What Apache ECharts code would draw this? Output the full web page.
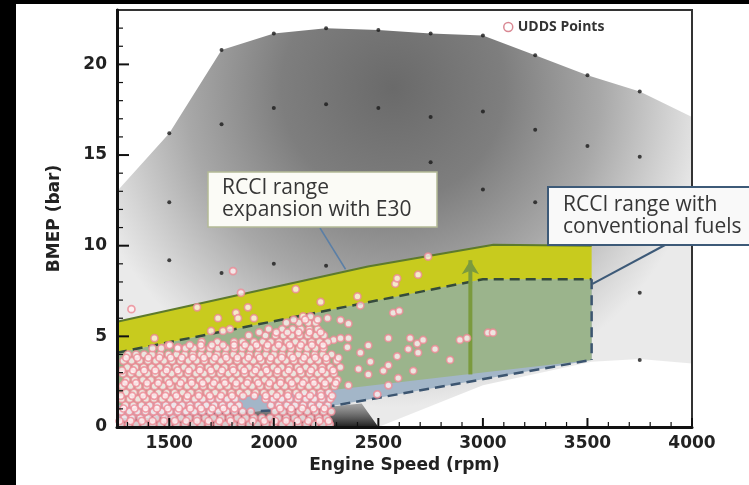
<!DOCTYPE html>
<html>
<head>
<meta charset="utf-8">
<script src="https://cdn.jsdelivr.net/npm/echarts@6/dist/echarts.min.js"></script>
<style>
	html, body { margin: 0; padding: 0; background: #fff; }
	#main { width: 749px; height: 485px; }
</style>
</head>
<body>
<div id="main"></div>
<script>
( function() {
	'use strict';

	// axis ticks
	var xMajorTicks = [ 1500, 2000, 2500, 3000, 3500, 4000 ];
	var xMinorTicks = [ 1300, 1400, 1600, 1700, 1800, 1900, 2100, 2200, 2300, 2400, 2600, 2700, 2800, 2900, 3100, 3200, 3300, 3400, 3600, 3700, 3800, 3900 ];
	var yMajorTicks = [ 0, 5, 10, 15, 20 ];
	var yMinorTicks = [ 1, 2, 3, 4, 6, 7, 8, 9, 11, 12, 13, 14, 16, 17, 18, 19, 21, 22 ];

	// engine map envelope (gray shaded)
	var envelope = [ [ 1250, 13.0 ], [ 1500, 16.2 ], [ 1750, 20.8 ], [ 2000, 21.7 ], [ 2250, 22.0 ], [ 2500, 21.9 ], [ 2750, 21.7 ], [ 3000, 21.6 ], [ 3250, 20.5 ], [ 3500, 19.4 ], [ 3750, 18.5 ], [ 4000, 17.1 ], [ 4000, 3.5 ], [ 3750, 3.75 ], [ 3520, 3.6 ], [ 3000, 2.3 ], [ 2500, 0 ], [ 1250, 0 ] ];
	var darkFloor = [ [ 1250, 0.4 ], [ 2250, 1.1 ], [ 2420, 1.3 ], [ 2500, 0 ], [ 1250, 0 ] ];

	// RCCI boundaries
	var e30Top = [ [ 1250, 5.8 ], [ 2450, 8.85 ], [ 3050, 10.05 ], [ 3520, 10.0 ] ];
	var convTop = [ [ 1250, 4.1 ], [ 3000, 8.15 ], [ 3520, 8.15 ] ];
	var e30Bottom = [ [ 1250, 1.2 ], [ 2250, 2.0 ], [ 3000, 3.0 ], [ 3520, 3.7 ] ];
	var convBottom = [ [ 1250, 0.4 ], [ 2250, 1.1 ], [ 3520, 3.7 ] ];
	var convRight = [ [ 3520, 8.15 ], [ 3520, 3.7 ] ];
	var arrowLine = [ [ 2940, 2.9 ], [ 2940, 9.2 ] ];

	// black test points
	var mapPoints = [
		[ 1500, 16.2 ], [ 1750, 20.8 ], [ 2000, 21.7 ], [ 2250, 22.0 ], [ 2500, 21.9 ], [ 2750, 21.7 ], [ 3000, 21.6 ], [ 3250, 20.5 ], [ 3500, 19.4 ], [ 3750, 18.5 ],
		[ 1500, 12.4 ], [ 1750, 16.7 ], [ 2000, 17.6 ], [ 2250, 17.8 ], [ 2500, 17.6 ], [ 2750, 17.1 ], [ 3000, 17.4 ], [ 3250, 16.4 ], [ 3500, 15.5 ], [ 3750, 14.9 ],
		[ 2750, 14.6 ], [ 3000, 13.1 ], [ 3250, 12.4 ],
		[ 1500, 9.2 ], [ 1750, 8.5 ], [ 2000, 9.0 ], [ 2250, 8.9 ],
		[ 3750, 7.4 ], [ 3750, 3.7 ]
	];

	// UDDS points, scattered ones
	var uddsSparse = [
		[ 1319, 6.5 ], [ 1429, 4.9 ], [ 1495, 4.5 ], [ 1543, 4.4 ], [ 1633, 6.6 ], [ 1700, 5.3 ], [ 1733, 6.0 ], [ 1757, 5.3 ], [ 1790, 5.4 ], [ 1805, 8.6 ],
		[ 1819, 6.3 ], [ 1829, 6.0 ], [ 1843, 7.4 ], [ 1876, 6.6 ], [ 1905, 6.0 ], [ 2105, 7.6 ], [ 2224, 6.9 ], [ 2257, 6.0 ], [ 2286, 4.8 ], [ 2319, 4.9 ],
		[ 2319, 5.9 ], [ 2352, 4.4 ], [ 2357, 5.7 ], [ 2357, 4.9 ], [ 2357, 2.3 ], [ 2400, 7.2 ], [ 2405, 3.2 ], [ 2414, 6.7 ], [ 2414, 4.1 ], [ 2452, 4.5 ],
		[ 2452, 2.9 ], [ 2462, 3.6 ], [ 2495, 1.8 ], [ 2524, 3.1 ], [ 2548, 4.9 ], [ 2548, 3.4 ], [ 2548, 2.3 ], [ 2571, 6.3 ], [ 2581, 7.9 ], [ 2590, 8.2 ],
		[ 2590, 3.9 ], [ 2595, 2.7 ], [ 2600, 6.4 ], [ 2643, 4.3 ], [ 2652, 4.9 ], [ 2667, 3.1 ], [ 2686, 4.6 ], [ 2690, 8.4 ], [ 2690, 4.1 ], [ 2714, 4.8 ],
		[ 2738, 9.4 ], [ 2771, 4.3 ], [ 2843, 3.7 ], [ 2890, 4.8 ], [ 2924, 4.9 ], [ 3024, 5.2 ], [ 3048, 5.2 ]
	];
	// UDDS points, dense cloud: bmep level -> rpm values
	var uddsRows = [
		[ 0.15, [ 1268, 1305, 1342, 1380, 1421, 1458, 1497, 1536, 1574, 1615, 1652, 1690, 1731, 1768, 1806, 1845, 1884, 1921, 1962, 2000, 2040, 2078, 2117, 2155, 2196, 2235, 2268 ] ],
		[ 0.5, [ 1285, 1322, 1361, 1400, 1438, 1478, 1517, 1556, 1594, 1633, 1672, 1711, 1750, 1788, 1826, 1866, 1905, 1943, 1982, 2021, 2060, 2099, 2137, 2176, 2215, 2252 ] ],
		[ 0.85, [ 1270, 1309, 1347, 1386, 1425, 1463, 1502, 1541, 1580, 1619, 1657, 1696, 1735, 1774, 1812, 1851, 1890, 2005, 2044, 2083, 2122, 2160, 2199, 2238, 2275 ] ],
		[ 1.2, [ 1290, 1328, 1367, 1406, 1444, 1483, 1522, 1561, 1599, 1638, 1677, 1716, 1754, 1793, 1832, 1986, 2024, 2063, 2102, 2141, 2180, 2219, 2258 ] ],
		[ 1.55, [ 1272, 1311, 1350, 1389, 1427, 1466, 1505, 1544, 1583, 1622, 1660, 1699, 1738, 1777, 1815, 1960, 1998, 2037, 2076, 2115, 2154, 2193, 2231, 2270 ] ],
		[ 1.9, [ 1293, 1331, 1370, 1409, 1448, 1487, 1525, 1564, 1603, 1642, 1681, 1719, 1758, 1797, 1836, 1875, 1913, 1952, 1991, 2030, 2069, 2107, 2146, 2185, 2224, 2263 ] ],
		[ 2.25, [ 1275, 1314, 1353, 1392, 1430, 1469, 1508, 1547, 1586, 1625, 1663, 1702, 1741, 1780, 1819, 1857, 1896, 1935, 1974, 2013, 2052, 2090, 2129, 2168, 2207, 2246, 2290 ] ],
		[ 2.6, [ 1296, 1335, 1374, 1412, 1451, 1490, 1529, 1568, 1606, 1645, 1684, 1723, 1762, 1800, 1839, 1878, 1917, 1956, 1994, 2033, 2072, 2111, 2150, 2188, 2227, 2266, 2305 ] ],
		[ 2.95, [ 1278, 1317, 1356, 1395, 1434, 1472, 1511, 1550, 1589, 1628, 1666, 1705, 1744, 1783, 1822, 1861, 1899, 1938, 1977, 2016, 2055, 2093, 2132, 2171, 2210, 2249, 2288 ] ],
		[ 3.3, [ 1299, 1338, 1377, 1416, 1454, 1493, 1532, 1571, 1610, 1648, 1687, 1726, 1765, 1804, 1843, 1881, 1920, 1959, 1998, 2037, 2075, 2114, 2153, 2192, 2231, 2270, 2318 ] ],
		[ 3.65, [ 1281, 1320, 1359, 1398, 1436, 1475, 1514, 1553, 1592, 1631, 1669, 1708, 1747, 1786, 1825, 1864, 1902, 1941, 1980, 2019, 2058, 2097, 2135, 2174, 2213, 2252, 2300 ] ],
		[ 4.0, [ 1302, 1341, 1380, 1418, 1457, 1496, 1535, 1574, 1613, 1651, 1690, 1729, 1768, 1807, 1846, 1884, 1923, 1962, 2001, 2040, 2079, 2117, 2156, 2195, 2234, 2276 ] ],
		[ 4.35, [ 1420, 1462, 1540, 1578, 1617, 1656, 1695, 1733, 1772, 1811, 1850, 1889, 1927, 1966, 2005, 2044, 2083, 2122, 2160, 2199, 2238 ] ],
		[ 4.7, [ 1655, 1730, 1810, 1850, 1905, 1947, 1986, 2025, 2064, 2103, 2141, 2180, 2219, 2258 ] ],
		[ 5.05, [ 1880, 1960, 2008, 2046, 2085, 2124, 2163, 2202, 2240 ] ],
		[ 5.4, [ 1975, 2040, 2090, 2130, 2170, 2210 ] ],
		[ 5.75, [ 2060, 2120, 2165, 2200 ] ],
		[ 6.1, [ 2140, 2175 ] ],
		[ 0.33, [ 1262, 1315, 1369, 1420, 1474, 1527, 1581, 1633, 1688, 1740, 1793, 1847, 1899, 1954, 2006, 2059, 2113, 2165, 2218, 2262 ] ],
		[ 1.02, [ 1281, 1334, 1387, 1441, 1493, 1546, 1600, 1652, 1706, 1759, 1812, 2030, 2083, 2136, 2190, 2242 ] ],
		[ 1.72, [ 1268, 1322, 1375, 1428, 1481, 1534, 1587, 1641, 1694, 1747, 1800, 1853, 1907, 1962, 2014, 2067, 2120, 2173, 2226, 2279 ] ],
		[ 2.42, [ 1288, 1341, 1394, 1447, 1500, 1554, 1607, 1660, 1713, 1766, 1820, 1873, 1926, 1979, 2032, 2086, 2139, 2192, 2245, 2296 ] ],
		[ 3.12, [ 1274, 1327, 1380, 1433, 1487, 1540, 1593, 1646, 1699, 1752, 1806, 1859, 1912, 1965, 2018, 2071, 2125, 2178, 2231, 2284 ] ],
		[ 3.82, [ 1294, 1347, 1400, 1453, 1507, 1560, 1613, 1666, 1719, 1772, 1826, 1879, 1932, 1985, 2038, 2091, 2145, 2198, 2251, 2310 ] ],
		[ 4.52, [ 1502, 1598, 1651, 1704, 1757, 1810, 1863, 1917, 1970, 2023, 2076, 2129, 2182, 2236 ] ],
		[ 5.22, [ 1930, 2012, 2065, 2118, 2171, 2224 ] ],
		[ 5.92, [ 2095, 2150, 2210 ] ]
	];

	var uddsData = uddsSparse.slice();
	for ( var i = 0; i < uddsRows.length; i++ ) {
		for ( var j = 0; j < uddsRows[ i ][ 1 ].length; j++ ) {
			uddsData.push( [ uddsRows[ i ][ 1 ][ j ], uddsRows[ i ][ 0 ] ] );
		}
	}

	function band( top, bottom ) {
		return top.concat( bottom.slice().reverse() );
	}

	function polySeries( pts, fill, z ) {
		return {
			type: 'custom',
			silent: true,
			z: z,
			data: [ pts[ 0 ] ],
			renderItem: function( params, api ) {
				return {
					type: 'polygon',
					shape: { points: pts.map( function( p ) { return api.coord( p ); } ) },
					style: { fill: fill, stroke: 'none' }
				};
			}
		};
	}

	function lineSeries( pts, color, width, dashed, z ) {
		return {
			type: 'line',
			silent: true,
			z: z,
			data: pts,
			symbol: 'none',
			lineStyle: { color: color, width: width, type: dashed ? [ 10, 6 ] : 'solid' }
		};
	}

	function plain( v ) {
		return v + '';
	}

	var tickFont = { fontFamily: 'DejaVu Sans', fontWeight: 'bold', fontSize: 17, color: '#222' };

	var chart = echarts.init( document.getElementById( 'main' ) );
	var option = {
		backgroundColor: '#fff',
		animation: false,
		grid: { left: 117, right: 57, top: 10, bottom: 58, show: true, borderColor: '#333', borderWidth: 2, backgroundColor: 'transparent', z: 20 },
		legend: {
			data: [ 'UDDS Points' ],
			left: 498, top: 15,
			icon: 'circle', itemWidth: 9, itemHeight: 9, itemGap: 4,
			itemStyle: { color: '#fff', borderColor: '#d06a78', borderWidth: 1.5 },
			textStyle: { fontFamily: 'Open Sans', fontWeight: 'bold', fontSize: 14, color: '#333' }
		},
		xAxis: {
			type: 'value', min: 1250, max: 4000, position: 'bottom', z: 20,
			name: 'Engine Speed (rpm)', nameLocation: 'middle', nameGap: 15,
			nameTextStyle: { fontFamily: 'DejaVu Sans', fontWeight: 'bold', fontSize: 17, color: '#222' },
			axisLine: { show: true, lineStyle: { color: '#111', width: 3 } },
			axisTick: { show: false },
			axisLabel: Object.assign( { customValues: xMajorTicks, margin: 8, formatter: plain }, tickFont ),
			splitLine: { show: false }
		},
		yAxis: {
			type: 'value', min: 0, max: 23, position: 'left', z: 20,
			name: 'BMEP (bar)', nameLocation: 'middle', nameGap: 54,
			nameTextStyle: { fontFamily: 'DejaVu Sans', fontWeight: 'bold', fontSize: 17, color: '#222' },
			axisLine: { show: true, lineStyle: { color: '#111', width: 3 } },
			axisTick: { show: false },
			axisLabel: Object.assign( { customValues: yMajorTicks, margin: 10, formatter: plain }, tickFont ),
			splitLine: { show: false }
		},
		series: [
			polySeries( envelope, new echarts.graphic.RadialGradient( 0.48, 0.15, 0.8, [
				{ offset: 0, color: '#6a6a6a' },
				{ offset: 0.35, color: '#7e7e7e' },
				{ offset: 0.65, color: '#a8a8a8' },
				{ offset: 0.88, color: '#d4d4d4' },
				{ offset: 1, color: '#eaeaea' }
			] ), 1 ),
			polySeries( darkFloor, new echarts.graphic.LinearGradient( 0, 0, 0, 1, [
				{ offset: 0, color: 'rgba(120,120,120,0.6)' },
				{ offset: 1, color: '#1e1e1e' }
			] ), 2 ),
			polySeries( band( convTop, convBottom ), '#a3b6c8', 3 ),
			polySeries( band( convTop, e30Bottom ), '#9bb48c', 4 ),
			polySeries( band( e30Top, convTop ), '#c8cb1e', 4 ),
			lineSeries( e30Top, '#5d7a2c', 2, false, 5 ),
			lineSeries( convTop, '#354b3c', 2.5, true, 5 ),
			lineSeries( convBottom, '#3c5570', 2.5, true, 5 ),
			lineSeries( convRight, '#3c5570', 2.5, true, 5 ),
			{
				type: 'line', silent: true, z: 6,
				data: [ { value: arrowLine[ 0 ], symbol: 'none' }, { value: arrowLine[ 1 ], symbol: 'arrow', symbolSize: [ 13, 14 ] } ],
				lineStyle: { color: '#7b9a3e', width: 4 },
				itemStyle: { color: '#7b9a3e' }
			},
			{
				type: 'scatter', silent: true, z: 7,
				data: mapPoints, symbolSize: 4,
				itemStyle: { color: '#1a1a1a' }
			},
			{
				name: 'UDDS Points', type: 'scatter', silent: true, z: 8,
				data: uddsData, symbolSize: 7,
				itemStyle: { color: '#fff3f4', borderColor: '#ec8995', borderWidth: 1.7 }
			}
		]
	};
	chart.setOption( option );

	var graphics = [
		{ type: 'rect', shape: { x: 0, y: 0, width: 16, height: 485 }, style: { fill: '#000' }, z: 100 },
		{ type: 'rect', shape: { x: 0, y: 0, width: 749, height: 4 }, style: { fill: '#000' }, z: 100 }
	];

	// inward tick marks, placed through the axis scales
	function addTicks( values, isX, len, width ) {
		values.forEach( function( v ) {
			var p = chart.convertToPixel( { gridIndex: 0 }, isX ? [ v, 0 ] : [ 1250, v ] );
			graphics.push( {
				type: 'rect', z: 100,
				shape: isX ? { x: p[ 0 ] - width / 2, y: p[ 1 ] - len, width: width, height: len } : { x: p[ 0 ], y: p[ 1 ] - width / 2, width: len, height: width },
				style: { fill: '#111' }
			} );
		} );
	}
	addTicks( xMajorTicks, true, 9, 2 );
	addTicks( xMinorTicks, true, 5, 1.2 );
	addTicks( yMajorTicks, false, 12, 2 );
	addTicks( yMinorTicks, false, 6, 1.2 );

	// callouts
	var lead1 = chart.convertToPixel( { gridIndex: 0 }, [ 2343, 8.7 ] );
	var lead2 = chart.convertToPixel( { gridIndex: 0 }, [ 3524, 7.9 ] );
	var calloutFont = { fontFamily: 'Open Sans', fontSize: 21, fill: '#363636', lineHeight: 22 };
	graphics.push(
		{ type: 'line', shape: { x1: 320, y1: 228, x2: lead1[ 0 ], y2: lead1[ 1 ] }, style: { stroke: '#5b7fa6', lineWidth: 1.5 }, z: 100 },
		{ type: 'rect', shape: { x: 208, y: 172, width: 229, height: 55 }, style: { fill: '#fbfbf6', stroke: '#b4bb96', lineWidth: 1.5 }, z: 101 },
		{ type: 'text', x: 222, y: 177, style: Object.assign( { text: 'RCCI range\nexpansion with E30' }, calloutFont ), z: 102 },
		{ type: 'line', shape: { x1: 665, y1: 245, x2: lead2[ 0 ], y2: lead2[ 1 ] }, style: { stroke: '#3d5a78', lineWidth: 2 }, z: 100 },
		{ type: 'rect', shape: { x: 548, y: 187, width: 210, height: 58 }, style: { fill: '#f9f9f9', stroke: '#3d5a78', lineWidth: 2 }, z: 101 },
		{ type: 'text', x: 563, y: 194, style: Object.assign( { text: 'RCCI range with\nconventional fuels' }, calloutFont ), z: 102 }
	);
	chart.setOption( { graphic: graphics } );
} )();
</script>
</body>
</html>
